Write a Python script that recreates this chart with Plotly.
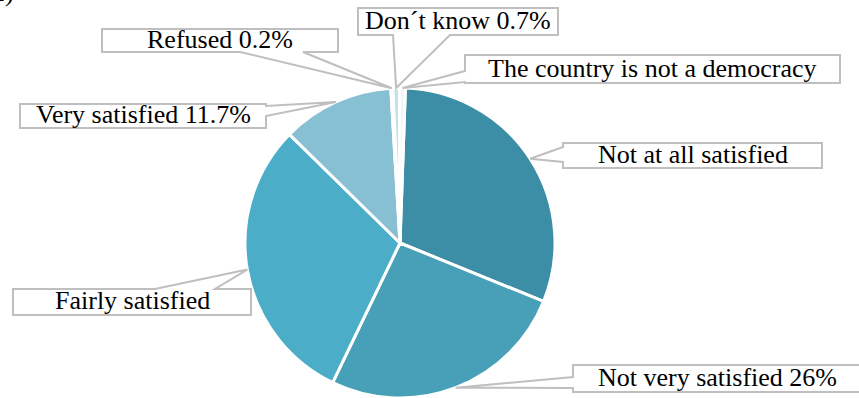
import math
import plotly.graph_objects as go

W, H = 859, 398

# ---- data ----
categories = ["Not at all satisfied", "Not very satisfied", "Fairly satisfied",
              "Very satisfied", "Refused", "Don´t know",
              "The country is not a democracy"]
values = [30.6, 26.0, 30.2, 11.7, 0.2, 0.7, 0.6]
label_texts = ["Not at all satisfied", "Not very satisfied 26%", "Fairly satisfied",
               "Very satisfied 11.7%", "Refused 0.2%", "Don´t know 0.7%",
               "The country is not a democracy"]
colors = ["#3b8ea5", "#479fb8", "#4badc7", "#86c0d2", "#dcedf3", "#c3e1ea", "#eef6f9"]

FONT = "Liberation Serif"

# ---- layout (pixels) ----
rotation_deg = 2.0
cx, cy, R = 400, 243, 155
# box (x0,y0,x1,y1), side of wedge, wedge base span along that side
callouts = [
    ((563, 143, 822, 168), "left", (147, 162)),
    ((573, 365, 862, 392), "left", (377, 388)),
    ((13, 289, 251, 315), "top", (155, 215)),
    ((20, 104, 266, 128), "right", (106, 116)),
    ((102, 29, 338, 52), "bottom", (240, 303)),
    ((358, 8, 558, 35), "bottom", (393, 450)),
    ((465, 55, 840, 83), "left", (71, 82)),
]


def px(x, y):
    return x / W, 1 - y / H


fig = go.Figure()
dx0, dy0 = px(cx - R, cy + R)
dx1, dy1 = px(cx + R, cy - R)
fig.add_trace(go.Pie(
    labels=categories, values=values, sort=False, direction="clockwise",
    rotation=rotation_deg, textinfo="none", hoverinfo="label+value",
    marker=dict(colors=colors, line=dict(color="white", width=3)),
    domain=dict(x=[dx0, dx1], y=[max(0, dy0), dy1]), showlegend=False,
))

total = sum(values)
cum = 0.0
shapes, annotations = [], []
for i, v in enumerate(values):
    mid = rotation_deg + (cum + v / 2) / total * 360
    cum += v
    a = math.radians(mid)
    tx, ty = cx + R * math.sin(a), cy - R * math.cos(a)
    (x0, y0, x1, y1), side, (s0, s1) = callouts[i]
    if side == "left":
        pts = [(x0, y0), (x1, y0), (x1, y1), (x0, y1), (x0, s1), (tx, ty), (x0, s0)]
    elif side == "right":
        pts = [(x0, y0), (x1, y0), (x1, s0), (tx, ty), (x1, s1), (x1, y1), (x0, y1)]
    elif side == "top":
        pts = [(x0, y0), (s0, y0), (tx, ty), (s1, y0), (x1, y0), (x1, y1), (x0, y1)]
    else:
        pts = [(x0, y0), (x1, y0), (x1, y1), (s1, y1), (tx, ty), (s0, y1), (x0, y1)]
    path = "M " + " L ".join("%.5f,%.5f" % px(x, y) for x, y in pts) + " Z"
    shapes.append(dict(type="path", xref="paper", yref="paper", path=path,
                       fillcolor="white", line=dict(color="#bfbfbf", width=2)))
    ax, ay = px((x0 + x1) / 2, (y0 + y1) / 2)
    annotations.append(dict(xref="paper", yref="paper", x=ax, y=ay + 1 / H, text=label_texts[i],
                            showarrow=False, xanchor="center", yanchor="middle",
                            font=dict(family=FONT, size=26, color="black")))

annotations.append(dict(xref="paper", yref="paper", x=-10 / W, y=1 - 9 / H, text="2)",
                        showarrow=False, xanchor="left", yanchor="bottom",
                        font=dict(family=FONT, size=26, color="black")))

fig.update_layout(width=W, height=H, margin=dict(l=0, r=0, t=0, b=0),
                  paper_bgcolor="white", plot_bgcolor="white",
                  font=dict(family=FONT),
                  shapes=shapes, annotations=annotations)
fig.write_html("out.html")
